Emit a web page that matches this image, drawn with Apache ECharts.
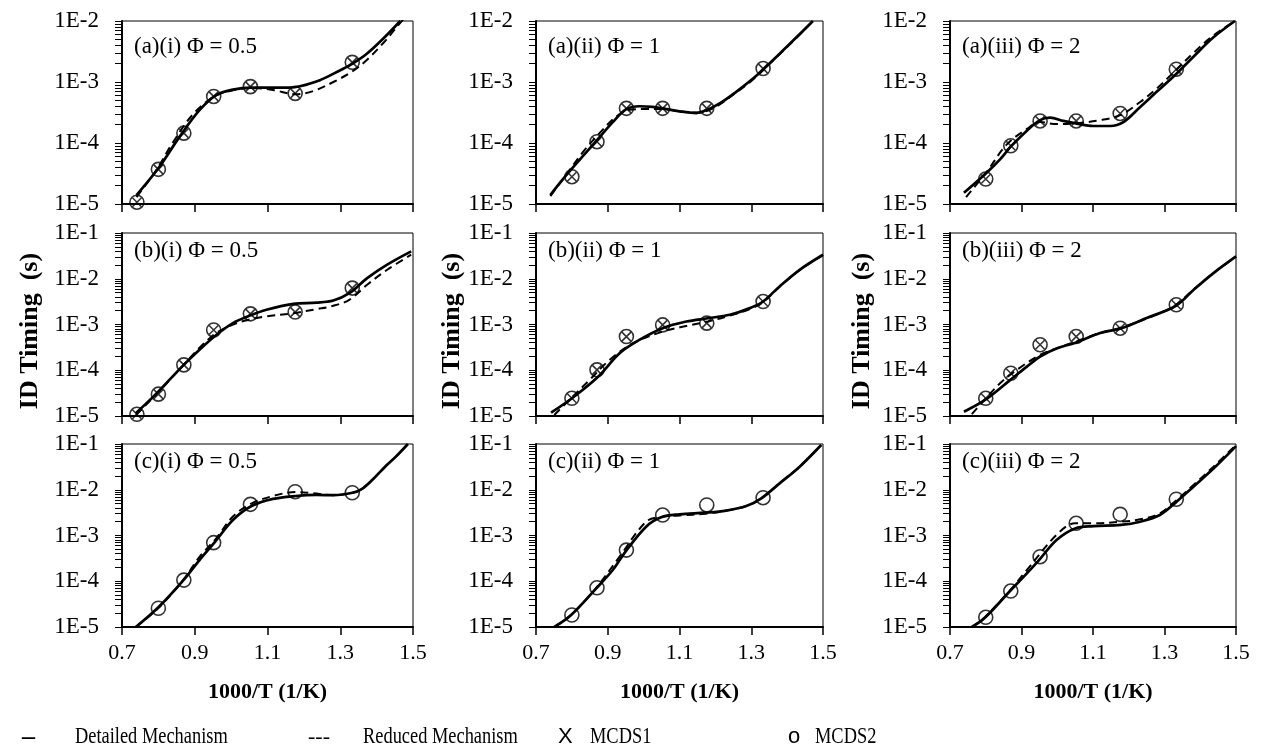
<!DOCTYPE html>
<html><head><meta charset="utf-8">
<script src="https://cdn.jsdelivr.net/npm/echarts@6.0.0/dist/echarts.min.js"></script>
<style>html,body{margin:0;padding:0;background:#fff}#c{width:1266px;height:751px}</style>
</head><body><div id="c"></div><script>
// ---------- text ----------
const panelTitles = ['(a)(i) Φ = 0.5','(a)(ii) Φ = 1','(a)(iii) Φ = 2','(b)(i) Φ = 0.5','(b)(ii) Φ = 1','(b)(iii) Φ = 2','(c)(i) Φ = 0.5','(c)(ii) Φ = 1','(c)(iii) Φ = 2'];
const xTicks = [0.7, 0.9, 1.1, 1.3, 1.5];
const xTickLabels = ['0.7','0.9','1.1','1.3','1.5'];
const yTickLabelsA = ['1E-5','1E-4','1E-3','1E-2'];
const yTickLabelsBC = ['1E-5','1E-4','1E-3','1E-2','1E-1'];
const xTitle = '1000/T (1/K)';
const yTitle = 'ID Timing  (s)';
const legendNames = ['Detailed Mechanism','Reduced Mechanism','MCDS1','MCDS2'];
const legendMarks = ['–','---','X','o'];

// ---------- experiment x (1000/T) ----------
const expX7 = [0.741, 0.800, 0.870, 0.952, 1.053, 1.176, 1.333];
const expX6 = [0.800, 0.870, 0.952, 1.053, 1.176, 1.333];

// ---------- MCDS values ----------
const mcds1_a1 = [1.07e-5, 3.7e-5, 1.45e-4, 5.8e-4, 8.4e-4, 6.5e-4, 2.1e-3];
const mcds2_a1 = [1.07e-5, 3.7e-5, 1.45e-4, 5.8e-4, 8.4e-4, 6.5e-4, 2.1e-3];
const mcds1_a2 = [2.8e-5, 1.05e-4, 3.7e-4, 3.7e-4, 3.7e-4, 1.66e-3];
const mcds2_a2 = [2.8e-5, 1.05e-4, 3.7e-4, 3.7e-4, 3.7e-4, 1.66e-3];
const mcds1_a3 = [2.57e-5, 9.0e-5, 2.3e-4, 2.3e-4, 3.05e-4, 1.62e-3];
const mcds2_a3 = [2.57e-5, 9.0e-5, 2.3e-4, 2.3e-4, 3.05e-4, 1.62e-3];
const mcds1_b1 = [1.09e-5, 3.0e-5, 1.31e-4, 7.6e-4, 1.71e-3, 1.87e-3, 6.25e-3];
const mcds2_b1 = [1.09e-5, 3.0e-5, 1.31e-4, 7.6e-4, 1.71e-3, 1.87e-3, 6.25e-3];
const mcds1_b2 = [2.44e-5, 1.02e-4, 5.45e-4, 9.8e-4, 1.07e-3, 3.18e-3];
const mcds2_b2 = [2.44e-5, 1.02e-4, 5.45e-4, 9.8e-4, 1.07e-3, 3.18e-3];
const mcds1_b3 = [2.44e-5, 8.6e-5, 3.6e-4, 5.45e-4, 8.3e-4, 2.7e-3];
const mcds2_b3 = [2.44e-5, 8.6e-5, 3.6e-4, 5.45e-4, 8.3e-4, 2.7e-3];
const mcds1_c1 = [];
const mcds2_c1 = [2.57e-5, 1.06e-4, 6.97e-4, 4.8e-3, 9.06e-3, 8.6e-3];
const mcds1_c2 = [];
const mcds2_c2 = [1.83e-5, 7.2e-5, 4.8e-4, 2.8e-3, 4.65e-3, 6.7e-3];
const mcds1_c3 = [];
const mcds2_c3 = [1.63e-5, 6.1e-5, 3.44e-4, 1.85e-3, 2.9e-3, 6.2e-3];

// ---------- mechanism curves [1000/T, time] ----------
const det_a1 = [[0.740,1.40e-5],[0.802,4.0e-5],[0.858,1.26e-4],[0.913,3.45e-4],[0.959,6.1e-4],[1.005,7.5e-4],[1.055,8.1e-4],[1.115,8.1e-4],[1.161,8.1e-4],[1.189,8.5e-4],[1.244,1.07e-3],[1.300,1.56e-3],[1.334,2.0e-3],[1.373,2.9e-3],[1.419,5.2e-3],[1.465,1.0e-2]];
const red_a1 = [[0.740,1.3e-5],[0.793,3.5e-5],[0.839,1.0e-4],[0.894,2.9e-4],[0.954,5.8e-4],[1.005,7.3e-4],[1.055,8.0e-4],[1.115,7.4e-4],[1.177,6.3e-4],[1.226,7.1e-4],[1.281,1.0e-3],[1.334,1.5e-3],[1.373,2.3e-3],[1.419,4.4e-3],[1.466,9.5e-3],[1.475,1.1e-2]];
const det_a2 = [[0.740,1.4e-5],[0.774,2.5e-5],[0.821,5.25e-5],[0.870,1.11e-4],[0.914,2.2e-4],[0.951,3.55e-4],[0.988,4.0e-4],[1.025,3.9e-4],[1.052,3.7e-4],[1.100,3.3e-4],[1.147,3.1e-4],[1.175,3.45e-4],[1.212,4.45e-4],[1.258,6.9e-4],[1.305,1.14e-3],[1.331,1.56e-3],[1.379,2.9e-3],[1.426,5.4e-3],[1.472,1.0e-2]];
const red_a2 = [[0.740,1.35e-5],[0.784,3.0e-5],[0.830,7.0e-5],[0.877,1.45e-4],[0.923,2.7e-4],[0.960,3.5e-4],[1.000,3.6e-4],[1.052,3.6e-4],[1.100,3.3e-4],[1.147,3.15e-4],[1.193,3.7e-4],[1.258,6.7e-4],[1.305,1.1e-3],[1.379,2.85e-3],[1.426,5.3e-3],[1.472,1.0e-2]];
const det_a3 = [[0.739,1.53e-5],[0.801,3.2e-5],[0.840,5.4e-5],[0.870,8.7e-5],[0.915,1.59e-4],[0.952,2.37e-4],[0.980,2.6e-4],[1.017,2.3e-4],[1.052,2.1e-4],[1.101,1.9e-4],[1.148,1.9e-4],[1.185,2.2e-4],[1.232,3.9e-4],[1.278,6.9e-4],[1.332,1.34e-3],[1.381,2.6e-3],[1.437,5.4e-3],[1.497,1.0e-2]];
const red_a3 = [[0.745,1.3e-5],[0.803,3.4e-5],[0.859,9.5e-5],[0.915,1.7e-4],[0.952,2.2e-4],[0.998,2.04e-4],[1.052,2.1e-4],[1.120,2.37e-4],[1.176,2.86e-4],[1.232,4.7e-4],[1.278,7.8e-4],[1.332,1.56e-3],[1.381,3.0e-3],[1.437,5.8e-3],[1.497,1.0e-2]];
const det_b1 = [[0.738,1.15e-5],[0.793,3.0e-5],[0.865,1.2e-4],[0.913,2.8e-4],[0.959,5.9e-4],[1.005,1.07e-3],[1.046,1.5e-3],[1.097,2.1e-3],[1.171,2.83e-3],[1.235,3.0e-3],[1.281,3.35e-3],[1.325,4.85e-3],[1.374,1.03e-2],[1.429,2.03e-2],[1.495,3.96e-2]];
const red_b1 = [[0.738,1.05e-5],[0.793,2.9e-5],[0.865,1.2e-4],[0.913,3.1e-4],[0.959,6.5e-4],[1.005,1.0e-3],[1.046,1.26e-3],[1.097,1.5e-3],[1.171,1.77e-3],[1.235,2.17e-3],[1.281,2.56e-3],[1.325,3.47e-3],[1.374,7.4e-3],[1.429,1.57e-2],[1.495,3.35e-2]];
const det_b2 = [[0.742,1.18e-5],[0.802,2.5e-5],[0.873,7.2e-5],[0.933,2.36e-4],[0.988,4.6e-4],[1.053,8.3e-4],[1.119,1.16e-3],[1.179,1.37e-3],[1.240,1.63e-3],[1.296,2.28e-3],[1.333,3.18e-3],[1.379,6.8e-3],[1.435,1.57e-2],[1.500,3.35e-2]];
const red_b2 = [[0.751,1.05e-5],[0.802,2.65e-5],[0.849,6.1e-5],[0.905,1.68e-4],[0.970,3.9e-4],[1.053,7.0e-4],[1.119,9.3e-4],[1.179,1.16e-3],[1.240,1.57e-3],[1.296,2.17e-3],[1.333,3.1e-3],[1.379,6.7e-3],[1.435,1.55e-2],[1.500,3.3e-2]];
const det_b3 = [[0.739,1.24e-5],[0.798,2.24e-5],[0.868,6.1e-5],[0.915,1.2e-4],[0.952,2.0e-4],[0.998,3.0e-4],[1.051,4.0e-4],[1.120,6.5e-4],[1.180,8.3e-4],[1.250,1.38e-3],[1.332,2.57e-3],[1.381,5.7e-3],[1.437,1.33e-2],[1.500,3.08e-2]];
const red_b3 = [[0.761,1.1e-5],[0.798,2.3e-5],[0.840,5.2e-5],[0.887,1.02e-4],[0.952,2.17e-4],[0.998,3.0e-4],[1.051,4.2e-4],[1.120,6.5e-4],[1.180,8.6e-4],[1.287,1.77e-3],[1.332,2.7e-3],[1.381,5.8e-3],[1.437,1.33e-2],[1.500,3.05e-2]];
const det_c1 = [[0.738,1.0e-5],[0.800,2.7e-5],[0.869,1.06e-4],[0.913,2.9e-4],[0.954,7.0e-4],[1.005,2.18e-3],[1.056,4.4e-3],[1.115,6.3e-3],[1.177,7.3e-3],[1.235,7.7e-3],[1.281,7.6e-3],[1.334,8.6e-3],[1.360,1.05e-2],[1.390,1.7e-2],[1.420,3.0e-2],[1.455,5.5e-2],[1.486,1.0e-1]];
const red_c1 = [[0.738,1.0e-5],[0.800,2.6e-5],[0.869,1.08e-4],[0.913,3.4e-4],[0.959,8.7e-4],[1.005,2.6e-3],[1.056,5.0e-3],[1.115,7.3e-3],[1.177,8.9e-3],[1.226,8.4e-3],[1.281,7.6e-3],[1.334,8.6e-3],[1.360,1.05e-2],[1.390,1.7e-2],[1.420,3.0e-2],[1.455,5.5e-2],[1.486,1.0e-1]];
const det_c2 = [[0.751,1.0e-5],[0.798,1.83e-5],[0.868,7.0e-5],[0.914,1.76e-4],[0.949,4.4e-4],[1.007,1.56e-3],[1.049,2.5e-3],[1.100,2.9e-3],[1.173,3.15e-3],[1.230,3.5e-3],[1.286,4.4e-3],[1.328,6.5e-3],[1.379,1.38e-2],[1.435,3.2e-2],[1.495,9.5e-2]];
const red_c2 = [[0.751,1.0e-5],[0.798,1.85e-5],[0.868,7.2e-5],[0.930,3.2e-4],[1.007,2.0e-3],[1.049,2.55e-3],[1.100,2.75e-3],[1.173,3.0e-3],[1.230,3.5e-3],[1.286,4.4e-3],[1.328,6.5e-3],[1.379,1.38e-2],[1.435,3.2e-2],[1.495,9.5e-2]];
const det_c3 = [[0.761,1.0e-5],[0.796,1.55e-5],[0.866,5.9e-5],[0.915,1.49e-4],[0.949,2.9e-4],[0.998,8.0e-4],[1.050,1.43e-3],[1.101,1.6e-3],[1.178,1.7e-3],[1.232,2.0e-3],[1.287,2.8e-3],[1.334,5.5e-3],[1.381,1.17e-2],[1.437,2.9e-2],[1.500,9.0e-2]];
const red_c3 = [[0.761,1.0e-5],[0.796,1.6e-5],[0.866,6.1e-5],[0.915,1.76e-4],[0.998,1.03e-3],[1.050,1.85e-3],[1.101,1.85e-3],[1.178,2.0e-3],[1.232,2.26e-3],[1.287,3.05e-3],[1.334,6.0e-3],[1.381,1.27e-2],[1.437,3.2e-2],[1.500,9.5e-2]];

// ---------- assembly ----------
const panels = [
  [det_a1, red_a1, expX7, mcds1_a1, mcds2_a1],
  [det_a2, red_a2, expX6, mcds1_a2, mcds2_a2],
  [det_a3, red_a3, expX6, mcds1_a3, mcds2_a3],
  [det_b1, red_b1, expX7, mcds1_b1, mcds2_b1],
  [det_b2, red_b2, expX6, mcds1_b2, mcds2_b2],
  [det_b3, red_b3, expX6, mcds1_b3, mcds2_b3],
  [det_c1, red_c1, expX6, mcds1_c1, mcds2_c1],
  [det_c2, red_c2, expX6, mcds1_c2, mcds2_c2],
  [det_c3, red_c3, expX6, mcds1_c3, mcds2_c3]
];
const FONT = '"Liberation Serif","Times New Roman",serif';
const SANS = '"Liberation Sans",Arial,sans-serif';
const cols = [{left:122, width:291}, {left:536, width:287}, {left:950, width:286}];
const rows = [{top:21, height:183, labels:yTickLabelsA, titleTop:35},
              {top:233, height:183, labels:yTickLabelsBC, titleTop:239},
              {top:444, height:183, labels:yTickLabelsBC, titleTop:450}];
const yTitleX = [30, 452, 862];

function logTicks(n){ // major decades + minor 2..9 positions, in log10 space
  const out = [];
  for (let d = -5; d < -5 + n; d++) for (let k = 1; k <= 9; k++) out.push(d + Math.log10(k));
  out.push(-5 + n);
  return out;
}
const zip = (xs, ys) => ys.map((y, k) => [xs[k], y]);

const option = {animation:false, backgroundColor:'#fff', grid:[], xAxis:[], yAxis:[], series:[], graphic:[]};

panels.forEach((p, i) => {
  const r = Math.floor(i / 3), c = i % 3;
  const row = rows[r], col = cols[c];
  const nDec = row.labels.length - 1;
  option.grid.push({left:col.left, top:row.top, width:col.width, height:row.height,
    show:true, borderColor:'#000', borderWidth:1, backgroundColor:'transparent',
    containLabel:false, outerBoundsMode:'none'});
  option.xAxis.push({gridIndex:i, type:'value', min:0.7, max:1.5, position:'bottom',
    axisLine:{show:true, onZero:false, lineStyle:{color:'#000', width:2}},
    axisTick:{show:true, inside:false, length:8, customValues:xTicks, lineStyle:{color:'#000', width:1.5}},
    axisLabel:{show:r === 2, customValues:xTicks, margin:15, hideOverlap:false,
      fontFamily:FONT, fontSize:22, color:'#000',
      formatter:v => xTickLabels[xTicks.findIndex(t => Math.abs(t - v) < 1e-6)] || ''},
    splitLine:{show:false},
    name:r === 2 ? xTitle : '', nameLocation:'middle', nameGap:54,
    nameTextStyle:{fontFamily:FONT, fontSize:22, fontWeight:'bold', color:'#000'}});
  // data axis (log scale)
  option.yAxis.push({gridIndex:i, type:'log', logBase:10, min:1e-5, max:Math.pow(10, -5 + nDec), position:'left', show:false});
  // overlay axis carrying the Excel-style decade labels and 2..9 minor ticks
  option.yAxis.push({gridIndex:i, type:'value', min:-5, max:-5 + nDec, position:'left', offset:0,
    axisLine:{show:true, onZero:false, lineStyle:{color:'#000', width:2}},
    axisTick:{show:true, inside:false, length:7, customValues:logTicks(nDec), lineStyle:{color:'#000', width:1}},
    axisLabel:{customValues:row.labels.map((_, k) => -5 + k), margin:23, hideOverlap:false,
      showMinLabel:true, showMaxLabel:true,
      fontFamily:FONT, fontSize:23, color:'#000',
      formatter:v => row.labels[Math.round(v) + 5]},
    splitLine:{show:false}});
  const yi = 2 * i;
  option.series.push({type:'line', name:legendNames[0], xAxisIndex:i, yAxisIndex:yi, data:p[0],
    showSymbol:false, symbol:'none', smooth:0.35, clip:true,
    lineStyle:{color:'#000', width:2.7}, z:3});
  option.series.push({type:'line', name:legendNames[1], xAxisIndex:i, yAxisIndex:yi, data:p[1],
    showSymbol:false, symbol:'none', smooth:0.35, clip:true,
    lineStyle:{color:'#000', width:2, type:[8, 5]}, z:3});
  option.series.push({type:'scatter', name:legendNames[2], xAxisIndex:i, yAxisIndex:yi, data:zip(p[2], p[3]),
    symbol:'path://M0,0L10,10M10,0L0,10', symbolSize:9,
    itemStyle:{color:'rgba(0,0,0,0)', borderColor:'#000', borderWidth:1.6}, z:4});
  option.series.push({type:'scatter', name:legendNames[3], xAxisIndex:i, yAxisIndex:yi, data:zip(p[2], p[4]),
    symbol:'circle', symbolSize:14,
    itemStyle:{color:'rgba(0,0,0,0)', borderColor:'#000', borderWidth:1.6}, z:4});
  option.graphic.push({type:'text', x:col.left + 12, y:row.titleTop, z:10,
    style:{text:panelTitles[i], fontFamily:FONT, fontSize:23, fill:'#000', align:'left', verticalAlign:'top'}});
  if (r === 1) {
    option.graphic.push({type:'text', x:yTitleX[c], y:331, rotation:Math.PI / 2, z:10,
      style:{text:yTitle, fontFamily:FONT, fontSize:26, fontWeight:'bold', fill:'#000', align:'center', verticalAlign:'middle'}});
  }
});

// legend row (text glyph markers, as in the original)
const legendMarkX = [22, 308, 558, 788];
const legendTextX = [75, 363, 590, 815];
legendNames.forEach((n, k) => {
  option.graphic.push({type:'text', x:legendMarkX[k], y:737, z:10,
    style:{text:legendMarks[k], fontFamily:k >= 2 ? SANS : FONT,
      fontSize:k === 0 ? 26 : 22, fontWeight:k === 0 ? 'bold' : 'normal', fill:'#000', align:'left', verticalAlign:'middle'}});
  option.graphic.push({type:'text', x:legendTextX[k], y:737, scaleX:0.8, z:10,
    style:{text:n, fontFamily:FONT, fontSize:23, fill:'#000', align:'left', verticalAlign:'middle'}});
});

const chart = echarts.init(document.getElementById('c'), null, {renderer:'canvas'});
chart.setOption(option);
</script></body></html>
